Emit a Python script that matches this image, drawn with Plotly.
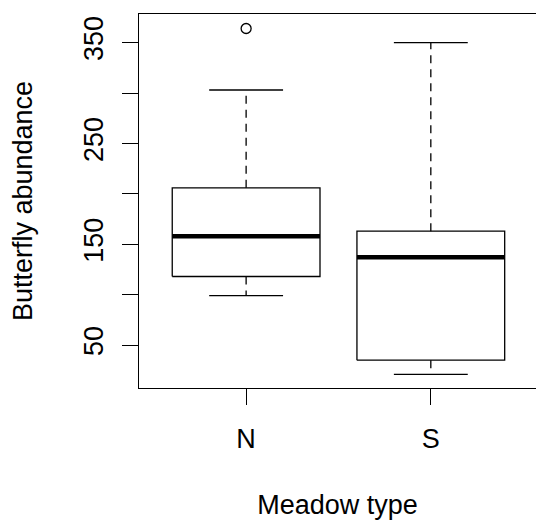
import plotly.graph_objects as go

# Data
categories = ["N", "S"]
lower_whisker = [99, 21]
q1 = [118, 35]
median = [158, 137]
q3 = [206, 163]
upper_whisker = [303, 350]
outliers = [[364], []]

y_tickvals = [50, 100, 150, 200, 250, 300, 350]
y_ticktext = ["50", "", "150", "", "250", "", "350"]

FONT = "Liberation Sans, Arial, sans-serif"
FS = 27
LW = 1.3
half_box = 0.4
half_cap = 0.2

fig = go.Figure()
for i, cat in enumerate(categories):
    c = i + 1
    # box
    fig.add_trace(go.Scatter(
        x=[c - half_box, c + half_box, c + half_box, c - half_box, c - half_box],
        y=[q1[i], q1[i], q3[i], q3[i], q1[i]],
        mode="lines", line=dict(color="black", width=LW), hoverinfo="skip"))
    # median
    fig.add_trace(go.Scatter(
        x=[c - half_box, c + half_box], y=[median[i], median[i]],
        mode="lines", line=dict(color="black", width=4.5), hoverinfo="skip"))
    # whiskers
    fig.add_trace(go.Scatter(
        x=[c, c, None, c, c],
        y=[q3[i], upper_whisker[i], None, q1[i], lower_whisker[i]],
        mode="lines", line=dict(color="black", width=LW, dash="8px,6px"), hoverinfo="skip"))
    # caps
    fig.add_trace(go.Scatter(
        x=[c - half_cap, c + half_cap, None, c - half_cap, c + half_cap],
        y=[upper_whisker[i], upper_whisker[i], None, lower_whisker[i], lower_whisker[i]],
        mode="lines", line=dict(color="black", width=LW), hoverinfo="skip"))
    if outliers[i]:
        fig.add_trace(go.Scatter(
            x=[c] * len(outliers[i]), y=outliers[i], mode="markers",
            marker=dict(symbol="circle-open", size=10, color="black", line=dict(width=LW)),
            hoverinfo="skip"))

fig.update_layout(
    width=536, height=522,
    margin=dict(l=139, r=0, t=14, b=134),
    plot_bgcolor="white", paper_bgcolor="white",
    showlegend=False,
    font=dict(family=FONT, size=FS, color="black"),
    xaxis=dict(
        range=[0.42, 2.5695], tickmode="array", tickvals=[1, 2], ticktext=categories,
        showline=True, mirror=True, linecolor="black", linewidth=LW,
        ticks="outside", ticklen=16, tickwidth=LW, tickcolor="black",
        showgrid=False, zeroline=False, ticklabelstandoff=10,
        tickfont=dict(size=FS),
        title=dict(text="Meadow type", font=dict(size=FS), standoff=42),
    ),
    yaxis=dict(
        range=[7.4, 378.4], tickmode="array", tickvals=y_tickvals, ticktext=y_ticktext,
        showline=True, mirror=False, linecolor="black", linewidth=LW,
        ticks="outside", ticklen=16, tickwidth=LW, tickcolor="black",
        showgrid=False, zeroline=False, tickangle=-90, ticklabelstandoff=8,
        tickfont=dict(size=FS),
        title=dict(text="Butterfly abundance", font=dict(size=FS), standoff=38),
    ),
)

fig.write_html("out.html")
